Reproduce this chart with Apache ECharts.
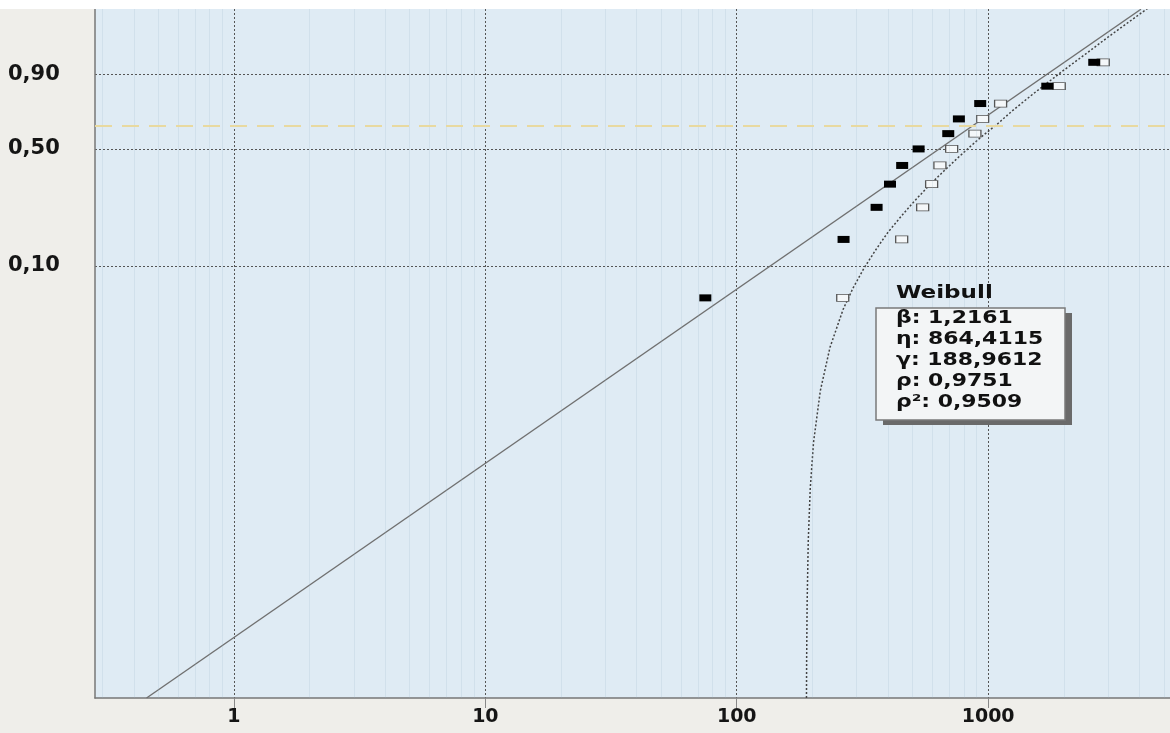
<!DOCTYPE html>
<html><head><meta charset="utf-8">
<script src="https://cdn.jsdelivr.net/npm/echarts@6/dist/echarts.min.js"></script>
<style>
html,body{margin:0;padding:0;background:#ffffff;}
#c{position:absolute;left:0;top:9px;width:1170px;height:724px;}
</style></head><body><div id="c"></div>
<script>
// ---- data ----
const xTickValues = [1, 10, 100, 1000];
const xTickLabels = ['1', '10', '100', '1000'];
const yTickValues = [0.10, 0.50, 0.90];
const yTickLabels = ['0,10', '0,50', '0,90'];
const minorXValues = [0.3,0.4,0.5,0.6,0.7,0.8,0.9,2,3,4,5,6,7,8,9,20,30,40,50,60,70,80,90,200,300,400,500,600,700,800,900,2000,3000,4000,5000];
const medianRanks = [0.061, 0.149, 0.237, 0.325, 0.412, 0.500, 0.588, 0.675, 0.763, 0.851, 0.939];
const shiftedTimes = [75, 266, 360, 407, 455, 529, 694, 765, 930, 1719, 2643];
const rawTimes = [264, 453, 549, 596, 643, 716, 886, 951, 1121, 1918, 2870];
const fitLineTimes = [0.449, 4053];
const fitLineProb = [0.0001, 0.9986];
const curveTimes = [189.4, 189.7, 190.5, 192.5, 196, 202, 215, 235, 265, 290, 320, 360, 400, 450, 500, 570, 650, 750, 850, 950, 1100, 1250, 1500, 1750, 2000, 2500, 3000, 3500, 4300];
const curveProb = [0.0001, 0.00019, 0.00045, 0.00125, 0.0029, 0.0061, 0.014, 0.028, 0.051, 0.071, 0.096, 0.130, 0.166, 0.208, 0.251, 0.309, 0.372, 0.446, 0.514, 0.575, 0.651, 0.723, 0.811, 0.872, 0.915, 0.963, 0.985, 0.994, 0.9987];
const characteristicProb = 0.632;
const boxTitle = 'Weibull';
const boxLines = ['β: 1,2161', 'η: 864,4115', 'γ: 188,9612', 'ρ: 0,9751', 'ρ²: 0,9509'];

// Weibull probability scale
const wb = F => Math.log(-Math.log(1 - F));
const yMin = wb(0.0001), yMax = wb(0.99864);
const yTickW = yTickValues.map(wb);

const font = '"DejaVu Sans", Verdana, sans-serif';
const chart = echarts.init(document.getElementById('c'));
chart.setOption({
  animation: false,
  backgroundColor: '#efeeea',
  grid: {left: 95, right: 0, top: 0, bottom: 35, show: true, backgroundColor: '#dfebf4', borderWidth: 0},
  xAxis: {
    type: 'log', logBase: 10, min: 0.28, max: 5290,
    axisLine: {show: true, onZero: false, lineStyle: {color: '#777', width: 1.5}},
    axisTick: {show: true, length: 10, customValues: xTickValues, lineStyle: {color: '#888', width: 1}},
    axisLabel: {customValues: xTickValues, margin: 10, fontFamily: font, fontWeight: 'bold', fontSize: 19, color: '#151515',
      formatter: v => { let b = 0; xTickValues.forEach((t, i) => { if (Math.abs(Math.log10(t) - Math.log10(v)) < 0.01) b = i; }); return xTickLabels[b]; }},
    splitLine: {show: true, lineStyle: {color: '#555', width: 1, type: [2, 2]}},
    minorTick: {show: false}, minorSplitLine: {show: false}
  },
  yAxis: {
    type: 'value', min: yMin, max: yMax,
    axisLine: {show: true, lineStyle: {color: '#777', width: 1.5}},
    axisTick: {show: false, customValues: yTickW},
    axisLabel: {customValues: yTickW, align: 'left', margin: 87, fontFamily: font, fontWeight: 'bold', fontSize: 21, color: '#151515',
      formatter: v => { let b = 0; yTickW.forEach((w, i) => { if (Math.abs(w - v) < 0.01) b = i; }); return yTickLabels[b]; }},
    splitLine: {show: true, lineStyle: {color: '#555', width: 1, type: [2, 2]}}
  },
  series: [
    {type: 'line', name: 'guides', data: [], silent: true, z: 1,
      markLine: {silent: true, symbol: 'none', label: {show: false}, animation: false,
        data: minorXValues.map(v => ({xAxis: v, lineStyle: {color: 'rgba(150,175,195,0.18)', width: 1, type: 'solid'}}))
          .concat([{yAxis: wb(characteristicProb), lineStyle: {color: '#e8d9a0', width: 2, type: [17, 10]}}])}},
    {type: 'line', name: 'fit', data: fitLineTimes.map((t, i) => [t, wb(fitLineProb[i])]), symbol: 'none', z: 3,
      lineStyle: {color: '#707070', width: 1.4}},
    {type: 'line', name: 'curve', data: curveTimes.map((t, i) => [t, wb(curveProb[i])]), symbol: 'none', z: 3,
      lineStyle: {color: '#444', width: 1.5, type: [2, 2]}},
    {type: 'scatter', name: 'raw', data: rawTimes.map((t, i) => [t, wb(medianRanks[i])]), symbol: 'rect', symbolSize: [12, 7], z: 4,
      itemStyle: {color: '#f4f7f9', opacity: 1, borderColor: '#555', borderWidth: 1}},
    {type: 'scatter', name: 'shifted', data: shiftedTimes.map((t, i) => [t, wb(medianRanks[i])]), symbol: 'rect', symbolSize: [12, 7], z: 5,
      itemStyle: {color: '#000', opacity: 1}}
  ],
  graphic: [
    {type: 'rect', z: 100, shape: {x: 883, y: 304, width: 189, height: 112}, style: {fill: '#6a6a6a'}},
    {type: 'rect', z: 101, shape: {x: 876, y: 299, width: 189, height: 112}, style: {fill: '#f3f5f6', stroke: '#7a7a7a', lineWidth: 1.5}},
    {type: 'text', z: 102, x: 896, y: 284, scaleX: 1.28, style: {text: boxTitle, font: 'bold 18px ' + font, fill: '#111', verticalAlign: 'middle'}}
  ].concat(boxLines.map((s, i) => ({type: 'text', z: 102, x: 896, y: 310 + i * 21, scaleX: 1.29,
    style: {text: s, font: 'bold 17px ' + font, fill: '#111', verticalAlign: 'middle'}})))
});
</script></body></html>
